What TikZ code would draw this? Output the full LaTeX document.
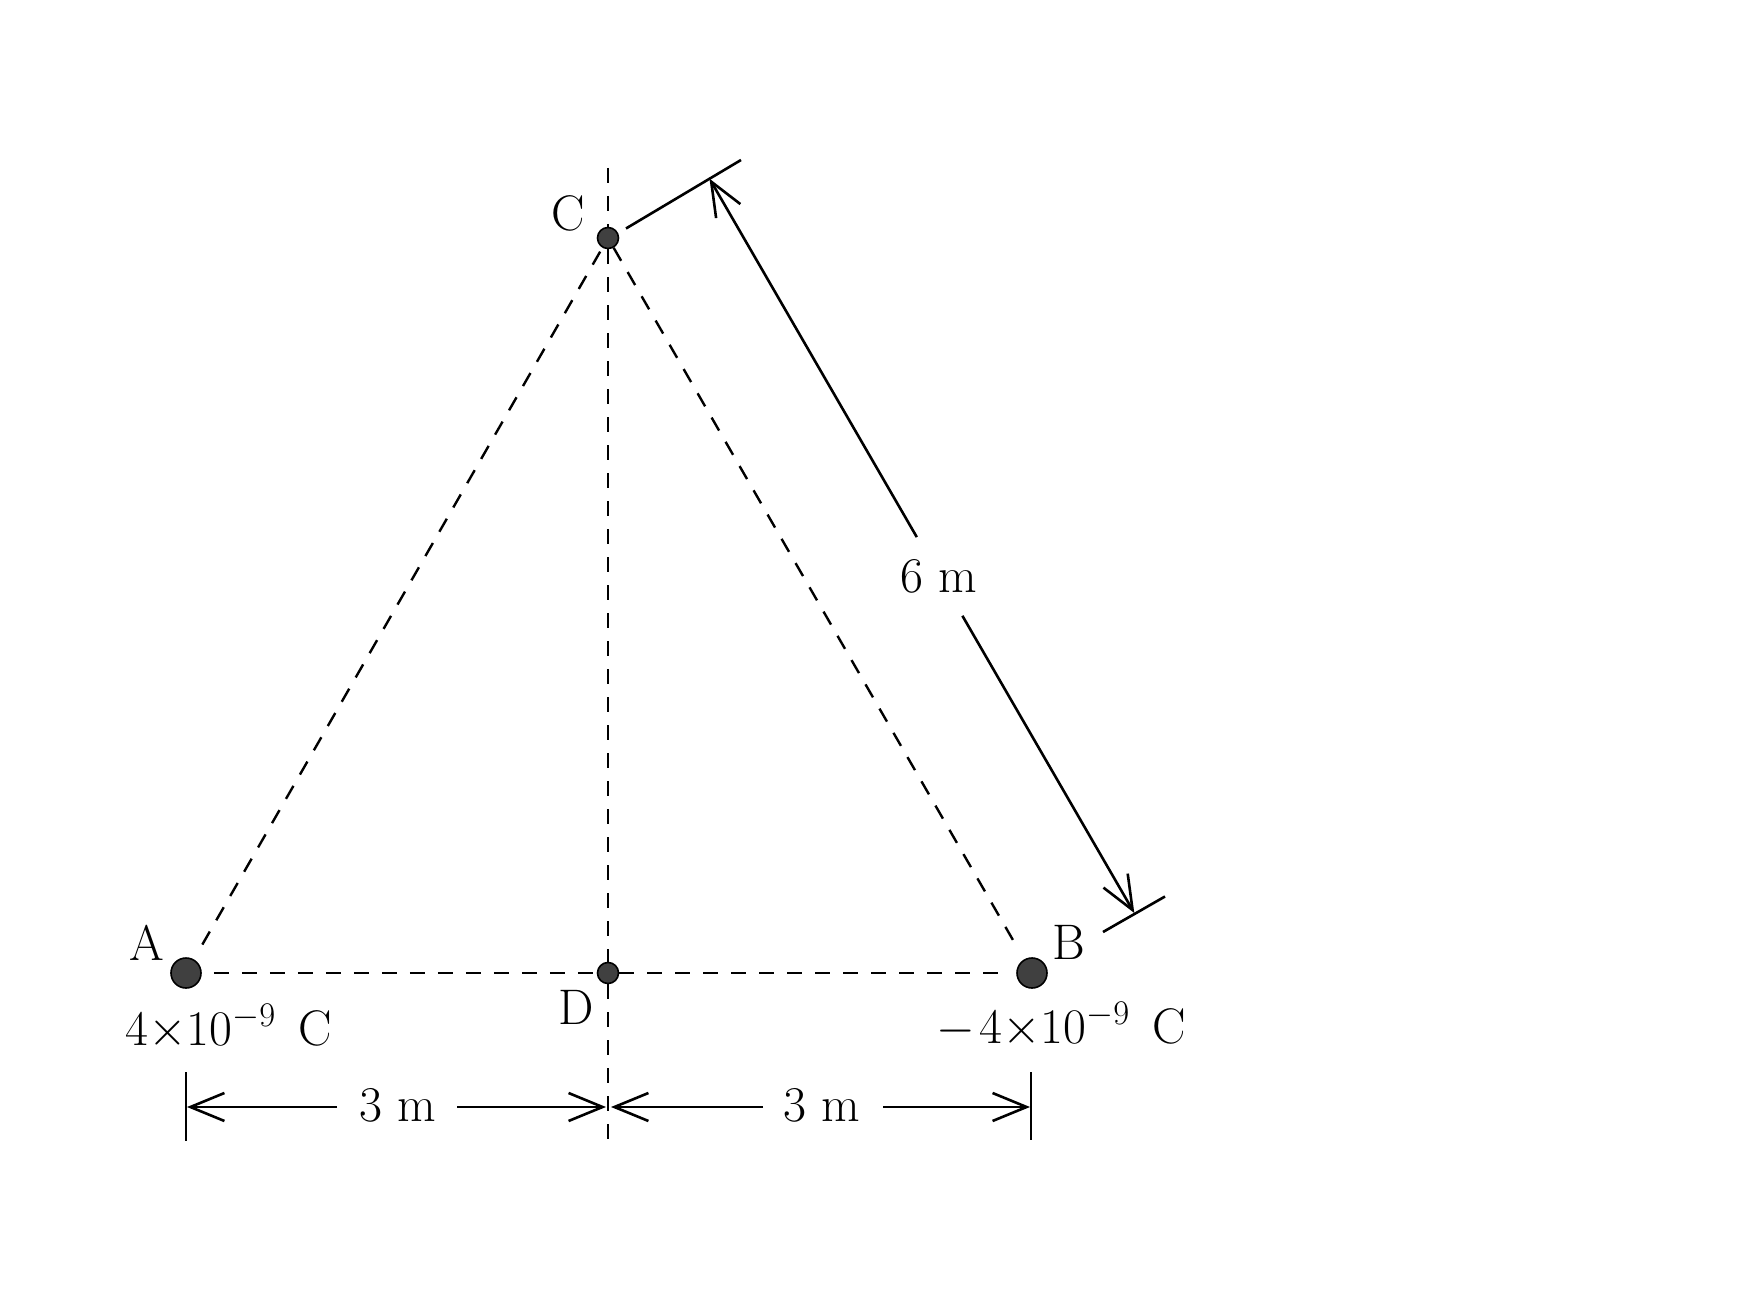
\documentclass[tikz,border=0pt]{standalone}
\usepackage{fontspec}
\usetikzlibrary{arrows.meta}
\begin{document}
\begin{tikzpicture}[x=0.5pt,y=-0.5pt,
  dashln/.style={line width=1.2pt, dash pattern=on 7.5pt off 6.5pt},
  solidln/.style={line width=1.3pt},
  dimtip/.tip={Straight Barb[length=17pt,width=14pt,line width=1.3pt]},
  dimln/.style={line width=1.3pt, -{dimtip}},
  bigdot/.style={circle, fill=black!75, draw=black, line width=0.8pt, minimum size=15pt, inner sep=0pt},
  smalldot/.style={circle, fill=black!75, draw=black, line width=0.8pt, minimum size=10.5pt, inner sep=0pt},
  lbl/.style={font=\fontsize{25}{30}\selectfont, inner sep=0pt}]
\useasboundingbox (0,0) rectangle (1761,1304);
% charges and points
\node[bigdot] (A) at (186,973) {};
\node[bigdot] (B) at (1032,973) {};
\node[smalldot] (C) at (608,238) {};
\node[smalldot] (D) at (608,973) {};
\coordinate (vtop) at (608,168);
\coordinate (vbot) at (608,1141);
% dashed construction lines
\draw[dashln] (vtop) -- (C);
\draw[dashln] (C) -- (D);
\draw[dashln] (D) -- (vbot);
\draw[dashln, shorten <=8.5pt] (A) -- (C);
\draw[dashln, shorten >=10pt] (C) -- (B);
\draw[dashln, shorten <=6pt] (A) -- (D);
\draw[dashln, shorten >=7.5pt] (D) -- (B);
% labels
\node[lbl] (lA) at (147,943) {A};
\node[lbl] (lB) at (1069,942.5) {B};
\node[lbl] (lC) at (568,213.5) {C};
\node[lbl] (lD) at (576,1007.5) {D};
\node[lbl, anchor=base west] (qA) at (125,1045) {$4{\times}10^{-9}$\hspace{0.45em}C};
\node[lbl, anchor=base west] (qB) at (936,1043) {$-\mskip1.5mu 4{\times}10^{-9}$\hspace{0.45em}C};
% horizontal dimensions
\coordinate (tkA1) at (186,1072);
\coordinate (tkA2) at (186,1141);
\coordinate (tkB1) at (1031,1072);
\coordinate (tkB2) at (1031,1140);
\draw[solidln] (tkA1) -- (tkA2);
\draw[solidln] (tkB1) -- (tkB2);
\node[lbl] (m3a) at (398,1105) {3 m};
\node[lbl] (m3b) at (822,1105) {3 m};
\coordinate (hA) at (187,1107);
\coordinate (hl1) at (337,1107);
\coordinate (hl2) at (457,1107);
\coordinate (hD1) at (606,1107);
\coordinate (hD2) at (611,1107);
\coordinate (hr1) at (763,1107);
\coordinate (hr2) at (883,1107);
\coordinate (hB) at (1030,1107);
\draw[dimln] (hl1) -- (hA);
\draw[dimln] (hl2) -- (hD1);
\draw[dimln] (hr1) -- (hD2);
\draw[dimln] (hr2) -- (hB);
% slanted 6 m dimension
\coordinate (tk1a) at (626,228.5);
\coordinate (tk1b) at (741,160);
\coordinate (tk2a) at (1103,932);
\coordinate (tk2b) at (1165,896.5);
\draw[solidln] (tk1a) -- (tk1b);
\draw[solidln] (tk2a) -- (tk2b);
\coordinate (t1) at (709.5,178.7);
\coordinate (g1) at (916.8,537.1);
\coordinate (g2) at (962.4,615.8);
\coordinate (t2) at (1134.3,913);
\draw[dimln] (g1) -- (t1);
\draw[dimln] (g2) -- (t2);
\node[lbl] (m6) at (939,576.5) {6 m};
\end{tikzpicture}
\end{document}
